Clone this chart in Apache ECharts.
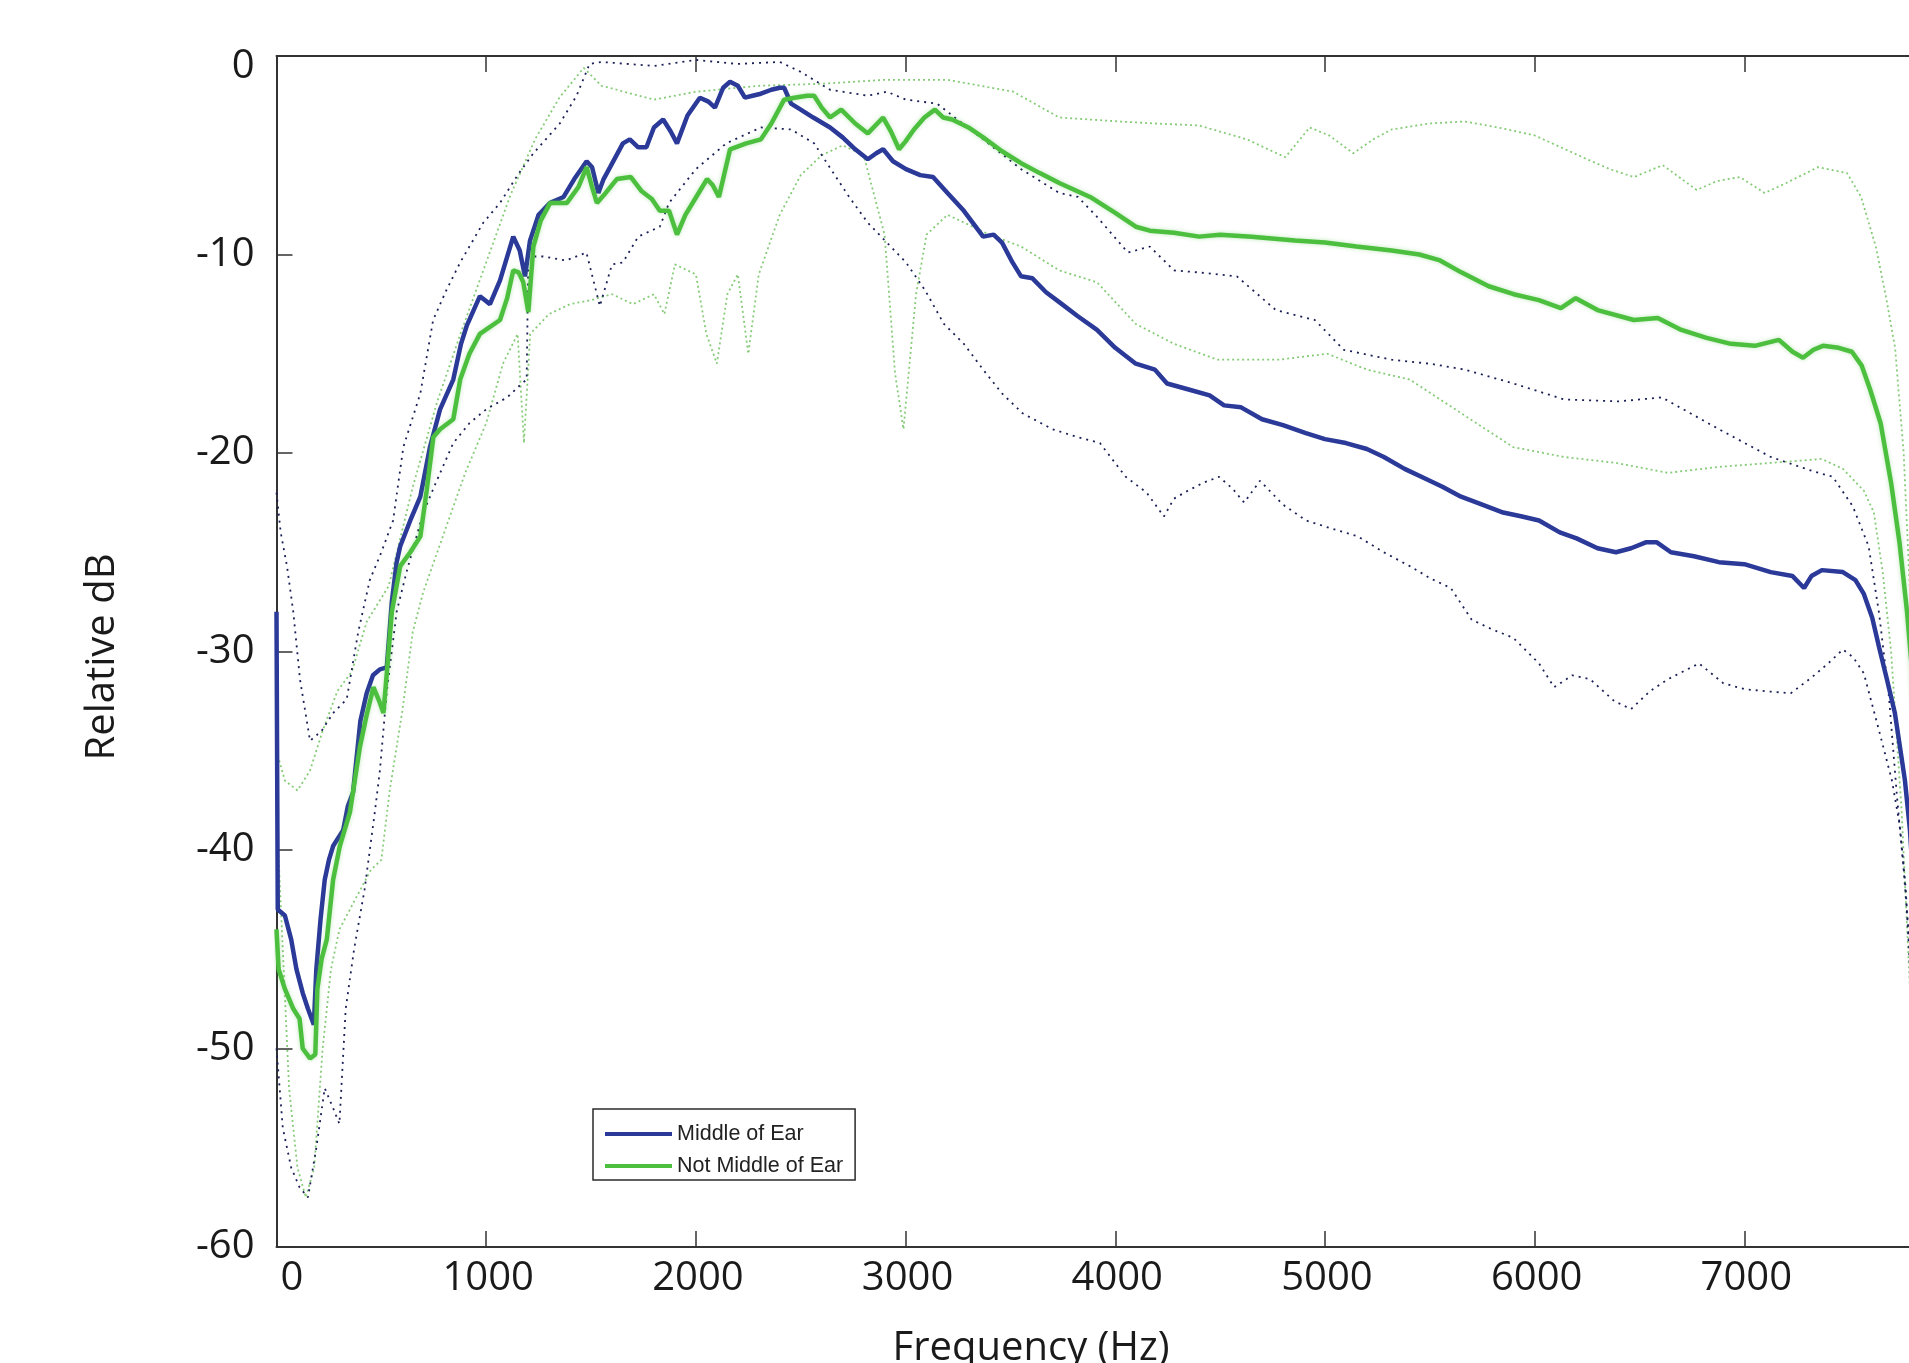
<!DOCTYPE html>
<html>
<head>
<meta charset="utf-8">
<script src="https://cdn.jsdelivr.net/npm/echarts@6/dist/echarts.min.js"></script>
<style>
html,body{margin:0;padding:0;background:#fff;}
#chart{width:1909px;height:1363px;}
</style>
</head>
<body>
<div id="chart"></div>
<script>
// ---- Data (frequency in Hz, level in relative dB) ----
const xTicks = [0, 1000, 2000, 3000, 4000, 5000, 6000, 7000, 8000];
const yTicks = [-60, -50, -40, -30, -20, -10, 0];
const seriesNames = ['Middle of Ear', 'Not Middle of Ear'];

const middleOfEar = [[0,-28],[6,-43],[40,-43.3],[70,-44.5],[95,-46],[125,-47.2],[150,-48],[178,-48.8],[190,-46],[210,-43.5],[230,-41.5],[250,-40.5],[270,-39.8],[318,-39],[340,-37.8],[365,-37.1],[400,-33.5],[430,-32.1],[460,-31.2],[493,-30.9],[526,-30.8],[550,-27.5],[573,-25.5],[590,-24.7],[638,-23.4],[686,-22.2],[732,-19.7],[780,-17.8],[843,-16.3],[880,-14.5],[907,-13.6],[970,-12.1],[1018,-12.5],[1066,-11.3],[1129,-9.1],[1160,-9.8],[1185,-11.1],[1209,-9.3],[1250,-8.0],[1305,-7.4],[1369,-7.1],[1420,-6.2],[1479,-5.3],[1505,-5.6],[1535,-6.9],[1560,-6.2],[1591,-5.6],[1652,-4.4],[1685,-4.2],[1725,-4.6],[1764,-4.6],[1800,-3.6],[1844,-3.2],[1880,-3.8],[1910,-4.4],[1960,-3.0],[2019,-2.1],[2060,-2.3],[2091,-2.6],[2130,-1.6],[2163,-1.3],[2200,-1.5],[2234,-2.1],[2270,-2.0],[2310,-1.9],[2360,-1.7],[2400,-1.6],[2421,-1.6],[2454,-2.4],[2500,-2.7],[2560,-3.1],[2640,-3.6],[2700,-4.1],[2760,-4.7],[2820,-5.2],[2860,-4.9],[2893,-4.7],[2940,-5.3],[3002,-5.7],[3070,-6.0],[3131,-6.1],[3200,-6.9],[3278,-7.8],[3370,-9.1],[3420,-9.0],[3460,-9.4],[3510,-10.4],[3551,-11.1],[3605,-11.2],[3670,-11.9],[3733,-12.4],[3820,-13.1],[3913,-13.8],[4000,-14.7],[4098,-15.5],[4189,-15.8],[4247,-16.5],[4350,-16.8],[4450,-17.1],[4519,-17.6],[4600,-17.7],[4700,-18.3],[4800,-18.6],[4909,-19.0],[5000,-19.3],[5100,-19.5],[5200,-19.8],[5281,-20.2],[5380,-20.8],[5480,-21.3],[5560,-21.7],[5649,-22.2],[5750,-22.6],[5850,-23.0],[5940,-23.2],[6021,-23.4],[6120,-24.0],[6200,-24.3],[6300,-24.8],[6388,-25.0],[6460,-24.8],[6530,-24.5],[6583,-24.5],[6650,-25.0],[6760,-25.2],[6879,-25.5],[7000,-25.6],[7126,-26.0],[7230,-26.2],[7285,-26.8],[7320,-26.2],[7370,-25.9],[7470,-26.0],[7530,-26.4],[7570,-27.1],[7610,-28.3],[7643,-29.8],[7680,-31.4],[7718,-33.1],[7745,-35.0],[7766,-36.5],[7790,-39],[7820,-44],[7850,-50]];

const notMiddleOfEar = [[0,-44],[10,-46],[40,-47],[80,-48],[110,-48.5],[125,-50],[160,-50.5],[185,-50.3],[195,-47],[215,-45.5],[240,-44.5],[270,-41.5],[302,-39.8],[350,-38.1],[398,-34.8],[430,-33.2],[462,-31.8],[490,-32.5],[510,-33.1],[526,-31.1],[550,-28],[590,-25.7],[638,-25.0],[686,-24.2],[716,-21.9],[748,-19.2],[780,-18.8],[843,-18.3],[876,-16.3],[920,-15],[970,-14.0],[1066,-13.3],[1100,-12.2],[1129,-10.8],[1155,-10.9],[1177,-11.4],[1201,-12.9],[1225,-9.6],[1260,-8.3],[1305,-7.4],[1385,-7.4],[1440,-6.6],[1479,-5.6],[1505,-6.6],[1528,-7.4],[1570,-6.9],[1623,-6.2],[1690,-6.1],[1740,-6.8],[1790,-7.2],[1828,-7.8],[1872,-7.8],[1910,-9.0],[1950,-8.0],[2019,-6.8],[2053,-6.2],[2080,-6.5],[2110,-7.1],[2163,-4.7],[2240,-4.4],[2310,-4.2],[2360,-3.4],[2421,-2.2],[2470,-2.1],[2530,-2.0],[2564,-2.0],[2600,-2.6],[2640,-3.1],[2693,-2.7],[2760,-3.4],[2820,-3.9],[2893,-3.1],[2930,-3.8],[2969,-4.7],[3000,-4.3],[3040,-3.7],[3090,-3.1],[3140,-2.7],[3180,-3.1],[3222,-3.2],[3300,-3.6],[3370,-4.1],[3460,-4.8],[3551,-5.4],[3640,-5.9],[3733,-6.4],[3880,-7.1],[4000,-7.9],[4098,-8.6],[4165,-8.8],[4280,-8.9],[4400,-9.1],[4500,-9.0],[4650,-9.1],[4857,-9.3],[5000,-9.4],[5150,-9.6],[5318,-9.8],[5450,-10.0],[5549,-10.3],[5650,-10.9],[5781,-11.6],[5900,-12.0],[6020,-12.3],[6125,-12.7],[6196,-12.2],[6300,-12.8],[6473,-13.3],[6587,-13.2],[6700,-13.8],[6820,-14.2],[6936,-14.5],[7050,-14.6],[7165,-14.3],[7230,-14.9],[7280,-15.2],[7330,-14.8],[7375,-14.6],[7450,-14.7],[7513,-14.9],[7560,-15.6],[7600,-16.8],[7650,-18.5],[7700,-21.5],[7740,-24.5],[7776,-28],[7800,-31],[7840,-38]];

const middleUpper = [[0,-22],[20,-24],[50,-25.7],[80,-28],[112,-31.4],[160,-34.5],[215,-34],[270,-33.1],[335,-32.4],[390,-29],[445,-26.4],[500,-25],[556,-23.4],[605,-19.7],[686,-17.0],[747,-13.3],[810,-11.8],[876,-10.4],[986,-8.4],[1066,-7.4],[1150,-6],[1225,-4.9],[1351,-3.4],[1431,-2.0],[1493,-0.4],[1550,-0.3],[1800,-0.5],[2000,-0.2],[2200,-0.4],[2400,-0.3],[2500,-0.8],[2640,-1.7],[2820,-2.0],[2911,-1.8],[3002,-2.2],[3150,-2.4],[3260,-3.3],[3370,-4.2],[3551,-5.7],[3733,-6.9],[3822,-7.1],[3913,-8.1],[4060,-9.9],[4165,-9.6],[4280,-10.8],[4395,-10.9],[4580,-11.1],[4766,-12.8],[4952,-13.3],[5090,-14.8],[5318,-15.3],[5500,-15.5],[5667,-15.8],[5900,-16.5],[6140,-17.3],[6400,-17.4],[6607,-17.2],[6879,-18.8],[7126,-20.2],[7322,-20.9],[7422,-21.2],[7518,-22.7],[7593,-24.7],[7643,-28.1],[7690,-32.3],[7728,-37.3],[7760,-41],[7790,-45],[7820,-50]];

const middleLower = [[0,-50],[30,-54],[70,-56],[110,-57],[150,-57.5],[190,-55],[230,-52],[270,-53],[300,-53.8],[330,-48],[370,-45],[420,-42],[470,-38],[493,-36],[526,-32],[573,-28],[620,-26],[700,-23],[760,-21.5],[843,-19.5],[920,-18.5],[1000,-17.8],[1100,-17.2],[1170,-16.5],[1193,-16.3],[1201,-10.1],[1272,-10.1],[1380,-10.3],[1478,-9.9],[1542,-12.6],[1600,-10.5],[1652,-10.4],[1725,-9.1],[1828,-8.6],[1872,-7.4],[2000,-5.7],[2145,-4.4],[2310,-3.6],[2454,-3.7],[2564,-4.4],[2650,-5.8],[2731,-7.1],[2820,-8.4],[2911,-9.4],[3002,-10.4],[3093,-11.8],[3183,-13.5],[3278,-14.5],[3370,-15.8],[3460,-17.0],[3558,-18.0],[3700,-18.8],[3820,-19.2],[3927,-19.5],[4050,-21.2],[4150,-22.0],[4232,-23.2],[4280,-22.3],[4346,-21.9],[4420,-21.5],[4495,-21.2],[4560,-21.8],[4615,-22.5],[4690,-21.4],[4800,-22.6],[4910,-23.4],[5030,-23.8],[5157,-24.2],[5280,-25.0],[5405,-25.7],[5500,-26.3],[5600,-26.8],[5700,-28.4],[5800,-28.9],[5897,-29.3],[6021,-30.6],[6093,-31.8],[6180,-31.2],[6265,-31.4],[6380,-32.5],[6460,-32.9],[6550,-32.0],[6635,-31.4],[6784,-30.6],[6900,-31.6],[7003,-31.9],[7100,-32.0],[7222,-32.1],[7322,-31.3],[7400,-30.6],[7470,-29.9],[7520,-30.3],[7570,-31.1],[7643,-34.0],[7704,-36.5],[7742,-38.8],[7770,-42],[7790,-46],[7820,-52]];

const notMiddleUpper = [[0,-35],[40,-36.5],[100,-37],[160,-36],[220,-34],[290,-32],[360,-31],[430,-28.5],[535,-26.7],[650,-21.7],[767,-17.4],[884,-13.8],[1000,-10.4],[1116,-7],[1233,-4.2],[1349,-2.1],[1465,-0.6],[1550,-1.5],[1800,-2.2],[2000,-1.8],[2300,-1.5],[2600,-1.4],[2900,-1.2],[3200,-1.2],[3514,-1.8],[3733,-3.1],[4023,-3.3],[4189,-3.4],[4400,-3.5],[4628,-4.2],[4811,-5.1],[4927,-3.6],[5020,-4.0],[5135,-4.9],[5230,-4.2],[5318,-3.7],[5500,-3.4],[5667,-3.3],[5826,-3.6],[6000,-4.0],[6125,-4.6],[6250,-5.2],[6359,-5.7],[6473,-6.1],[6611,-5.5],[6773,-6.75],[6870,-6.3],[6979,-6.1],[7097,-6.9],[7200,-6.4],[7351,-5.6],[7490,-5.9],[7557,-7.1],[7627,-9.6],[7675,-12.1],[7719,-14.7],[7760,-20],[7790,-27],[7820,-35]];

const notMiddleLower = [[0,-38],[30,-45],[60,-52],[100,-56],[140,-57.5],[180,-56],[220,-50],[260,-46],[300,-44],[350,-43],[400,-42],[450,-41],[500,-40.5],[540,-37],[600,-33],[650,-29],[700,-27],[800,-24],[900,-21],[1000,-18.5],[1080,-15.5],[1150,-14],[1180,-19.5],[1210,-14],[1300,-13],[1400,-12.5],[1500,-12.3],[1600,-12],[1700,-12.5],[1800,-12.0],[1850,-13],[1900,-10.5],[2000,-11],[2050,-14],[2100,-15.5],[2150,-12],[2200,-11],[2250,-15],[2300,-11],[2400,-8],[2500,-6],[2600,-5],[2700,-4.5],[2800,-5],[2900,-9],[2950,-16],[2990,-18.8],[3050,-12],[3100,-9],[3200,-8],[3300,-8.5],[3400,-9],[3551,-9.6],[3733,-10.8],[3913,-11.4],[4098,-13.5],[4280,-14.5],[4488,-15.3],[4779,-15.3],[5012,-15.0],[5200,-15.8],[5405,-16.3],[5650,-18.0],[5897,-19.7],[6140,-20.2],[6388,-20.5],[6635,-21.0],[6879,-20.7],[7126,-20.5],[7370,-20.3],[7470,-20.8],[7570,-21.9],[7618,-23],[7660,-26],[7700,-30],[7750,-38],[7790,-47],[7820,-55]];

// ---- Chart ----
const BLUE = '#2b3a98';
const GREEN = '#4cbf3e';
const BLUE_DOT = '#1a1f55';
const GREEN_DOT = '#86cc78';
const AXIS = '#333333';
const TXT = '#1a1a1a';
const FONT = "'Open Sans', 'Noto Sans', sans-serif";

const chart = echarts.init(document.getElementById('chart'), null, {renderer: 'canvas'});

function dottedSeries(data, color, dash, width) {
  return {
    type: 'line', data: data, showSymbol: false, symbol: 'none', silent: true,
    clip: true, z: 1,
    lineStyle: {color: color, width: width, type: dash}
  };
}

const option = {
  animation: false,
  backgroundColor: '#ffffff',
  grid: {left: 276.5, top: 56, right: -45, bottom: 116, outerBoundsMode: 'none', containLabel: false},
  xAxis: [{
    type: 'value', min: xTicks[0], max: xTicks[xTicks.length - 1], interval: 1000,
    position: 'bottom',
    axisLine: {show: true, onZero: false, lineStyle: {color: AXIS, width: 2}},
    axisTick: {show: true, inside: true, length: 16, lineStyle: {color: AXIS, width: 1.5}},
    splitLine: {show: false},
    axisLabel: {
      fontSize: 40, color: TXT, fontFamily: FONT, margin: 12,
      alignMinLabel: 'left', padding: [0, 0, 0, 4], showMaxLabel: false,
      formatter: function (v) { return String(v); }
    }
  }, {
    type: 'value', min: xTicks[0], max: xTicks[xTicks.length - 1], interval: 1000,
    position: 'top',
    axisLine: {show: true, onZero: false, lineStyle: {color: AXIS, width: 2}},
    axisTick: {show: true, inside: true, length: 16, lineStyle: {color: AXIS, width: 1.5}},
    splitLine: {show: false},
    axisLabel: {show: false}
  }],
  yAxis: [{
    type: 'value', min: yTicks[0], max: yTicks[yTicks.length - 1], interval: 10,
    position: 'left',
    axisLine: {show: true, onZero: false, lineStyle: {color: AXIS, width: 2}},
    axisTick: {show: true, inside: true, length: 16, lineStyle: {color: AXIS, width: 1.5}},
    splitLine: {show: false},
    axisLabel: {
      fontSize: 40, color: TXT, fontFamily: FONT, margin: 22,
      formatter: function (v) { return v === 0 ? '{top|0}' : String(v); },
      rich: {top: {fontSize: 40, color: TXT, fontFamily: FONT, padding: [22, 0, 0, 0]}}
    }
  }, {
    type: 'value', min: yTicks[0], max: yTicks[yTicks.length - 1], interval: 10,
    position: 'right',
    axisLine: {show: true, onZero: false, lineStyle: {color: AXIS, width: 2}},
    axisTick: {show: true, inside: true, length: 16},
    splitLine: {show: false},
    axisLabel: {show: false}
  }],
  legend: {
    show: true,
    data: seriesNames,
    orient: 'vertical',
    left: 593, top: 1109,
    padding: [14, 12, 3, 12],
    itemGap: 10,
    itemWidth: 67, itemHeight: 4,
    itemTextGap: 6,
    icon: 'rect',
    backgroundColor: '#ffffff',
    borderColor: '#2a2a2a', borderWidth: 1.5, borderRadius: 0,
    textStyle: {fontSize: 21.5, color: '#222', fontFamily: "'Liberation Sans', Arial, sans-serif"}
  },
  graphic: [{
    type: 'text', x: 103, y: 657, rotation: Math.PI / 2, z: 10,
    style: {text: 'Relative dB', font: "40px 'Open Sans', 'Noto Sans', sans-serif", fill: TXT, align: 'center', verticalAlign: 'middle'}
  }, {
    type: 'text', x: 1031, y: 1349, z: 10,
    style: {text: 'Frequency (Hz)', font: "40px 'Open Sans', 'Noto Sans', sans-serif", fill: TXT, align: 'center', verticalAlign: 'middle'}
  }],
  series: [
    dottedSeries(notMiddleUpper, GREEN_DOT, [2, 3], 1.8),
    dottedSeries(notMiddleLower, GREEN_DOT, [2, 3], 1.8),
    dottedSeries(middleUpper, BLUE_DOT, [2, 5], 1.8),
    dottedSeries(middleLower, BLUE_DOT, [2, 5], 1.8),
    {
      name: seriesNames[0], type: 'line', data: middleOfEar, showSymbol: false, symbol: 'none',
      clip: true, z: 3, itemStyle: {color: BLUE},
      lineStyle: {color: BLUE, width: 4.5}
    },
    {
      name: seriesNames[1], type: 'line', data: notMiddleOfEar, showSymbol: false, symbol: 'none',
      clip: true, z: 4, itemStyle: {color: GREEN},
      lineStyle: {color: GREEN, width: 4.5, shadowColor: 'rgba(76,191,62,0.35)', shadowBlur: 4}
    }
  ]
};
chart.setOption(option);
</script>
</body>
</html>
